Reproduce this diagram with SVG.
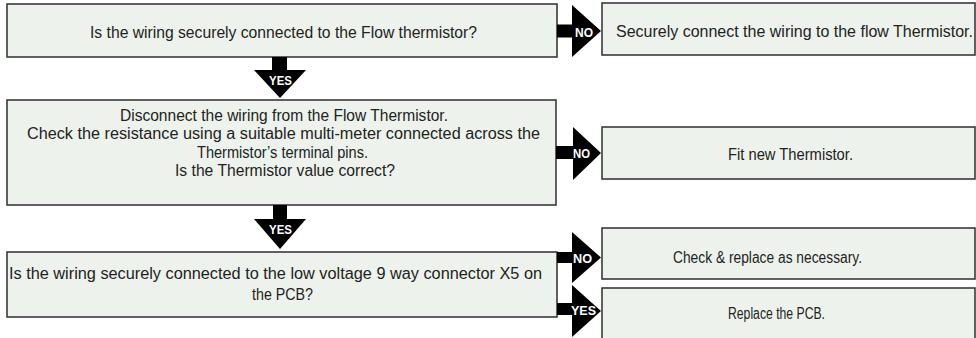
<svg xmlns="http://www.w3.org/2000/svg" width="976" height="338" viewBox="0 0 976 338">
<style>
.box{fill:#EDF3EC;stroke:#2e2e2e;stroke-width:1.5}
.t{font-family:"Liberation Sans",Arial,sans-serif;font-size:16px;fill:#222}
.arr{fill:#000;stroke:none}
.lbl{font-family:"Liberation Sans",Arial,sans-serif;font-weight:bold;font-size:12.5px;fill:#fff}
</style>
<rect width="976" height="338" fill="#fff"/>
<g id="q1">
<rect class="box" x="7" y="4" width="550" height="53"/>
<text class="t" x="90" y="38" textLength="387" lengthAdjust="spacingAndGlyphs">Is the wiring securely connected to the Flow thermistor?</text>
</g>
<g id="a1">
<rect class="box" x="602" y="3" width="373" height="52"/>
<text class="t" x="616" y="37" textLength="357" lengthAdjust="spacingAndGlyphs">Securely connect the wiring to the flow Thermistor.</text>
</g>
<g id="q2">
<rect class="box" x="7" y="100" width="549" height="105"/>
<text class="t" x="120" y="120.5" textLength="328" lengthAdjust="spacingAndGlyphs">Disconnect the wiring from the Flow Thermistor.</text>
<text class="t" x="27" y="139" textLength="513" lengthAdjust="spacingAndGlyphs">Check the resistance using a suitable multi-meter connected across the</text>
<text class="t" x="197" y="157.5" textLength="171" lengthAdjust="spacingAndGlyphs">Thermistor’s terminal pins.</text>
<text class="t" x="175" y="176" textLength="220" lengthAdjust="spacingAndGlyphs">Is the Thermistor value correct?</text>
</g>
<g id="a2">
<rect class="box" x="602" y="127" width="373" height="52"/>
<text class="t" x="728" y="160" textLength="125" lengthAdjust="spacingAndGlyphs">Fit new Thermistor.</text>
</g>
<g id="q3">
<rect class="box" x="7" y="252" width="550" height="65"/>
<text class="t" x="9" y="279" textLength="533" lengthAdjust="spacingAndGlyphs">Is the wiring securely connected to the low voltage 9 way connector X5 on</text>
<text class="t" x="252" y="300" textLength="61" lengthAdjust="spacingAndGlyphs">the PCB?</text>
</g>
<g id="a3">
<rect class="box" x="602" y="228" width="373" height="51"/>
<text class="t" x="673" y="263" textLength="189" lengthAdjust="spacingAndGlyphs">Check &amp; replace as necessary.</text>
</g>
<g id="a4">
<rect class="box" x="602" y="288" width="373" height="60"/>
<text class="t" x="728" y="319" textLength="97" lengthAdjust="spacingAndGlyphs">Replace the PCB.</text>
</g>
<g id="connectors">
<path class="arr" d="M557,24.5 H572 V5 L601,31 L572,57 V37.5 H557 Z"/>
<text class="lbl" x="575" y="37" textLength="18" lengthAdjust="spacingAndGlyphs">NO</text>
<path class="arr" d="M272,57 H287 V70 H306 L280,98 L254,70 H272 Z"/>
<text class="lbl" x="269" y="85" textLength="23" lengthAdjust="spacingAndGlyphs">YES</text>
<path class="arr" d="M556,146 H573 V127 L601,153 L573,180 V159 H556 Z"/>
<text class="lbl" x="573" y="158" textLength="17" lengthAdjust="spacingAndGlyphs">NO</text>
<path class="arr" d="M273,205 H287 V219 H306 L280,249 L254,219 H273 Z"/>
<text class="lbl" x="269" y="234" textLength="23" lengthAdjust="spacingAndGlyphs">YES</text>
<path class="arr" d="M557,252 H572 V232 L601,257.5 L572,283 V263 H557 Z"/>
<text class="lbl" x="573" y="263" textLength="19" lengthAdjust="spacingAndGlyphs">NO</text>
<path class="arr" d="M557,303 H572 V285 L601,311 L572,337 V315 H557 Z"/>
<text class="lbl" x="571" y="315" textLength="25" lengthAdjust="spacingAndGlyphs">YES</text>
</g>
</svg>
